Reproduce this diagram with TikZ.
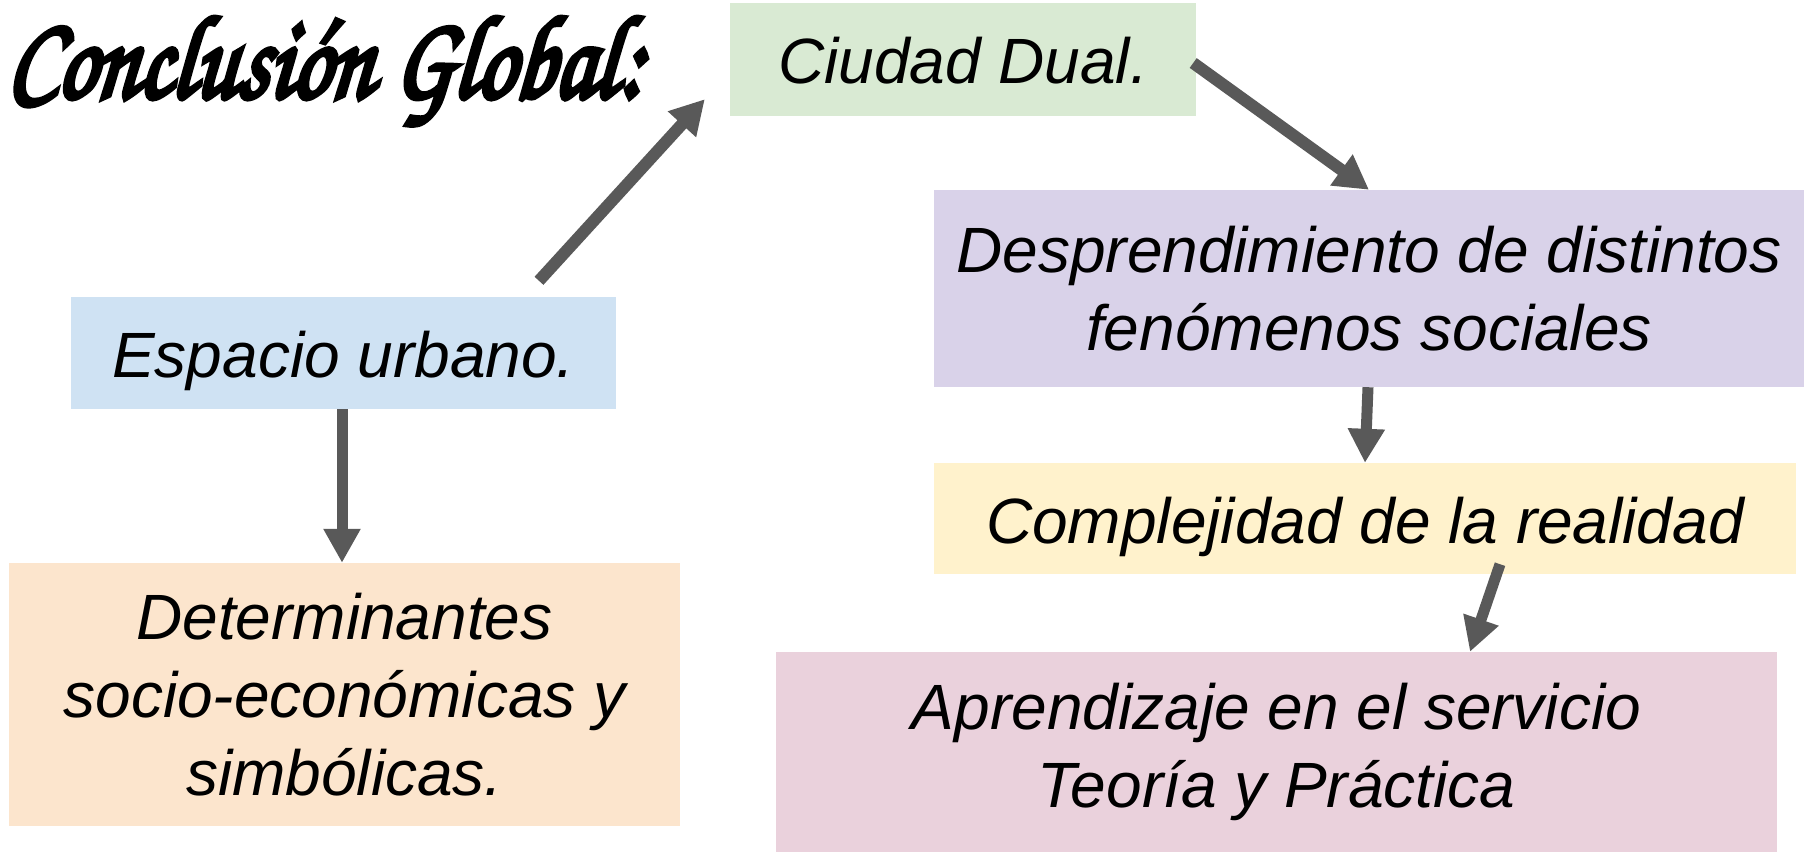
\documentclass[tikz,border=0pt]{standalone}
\usepackage{fontspec}
\setmainfont{Liberation Sans}
\newfontfamily\titlefont[FakeBold=4.5,FakeSlant=0.12]{texgyrechorus-mediumitalic.otf}
\usetikzlibrary{arrows.meta}
\definecolor{cgreen}{HTML}{D9EAD3}
\definecolor{cpurple}{HTML}{D9D2E9}
\definecolor{cyellow}{HTML}{FFF2CC}
\definecolor{cpink}{HTML}{EAD1DC}
\definecolor{cblue}{HTML}{CFE2F3}
\definecolor{corange}{HTML}{FCE5CD}
\definecolor{cgray}{HTML}{595959}
\tikzset{
  box/.style={rectangle, inner sep=0pt, align=center,
    font=\fontsize{64}{78}\selectfont\itshape},
  onebox/.style={box, text depth=0pt, text height=49pt},
  arr/.style={draw=cgray, line width=12pt, -{Triangle[width=36pt,length=34pt]}},
  varr/.style={draw=cgray, line width=11pt, -{Triangle[width=35pt,length=34pt]}}
}
\begin{document}
\begin{tikzpicture}[x=1pt,y=-1pt]
\useasboundingbox (0,0) rectangle (1806,853);
\node[anchor=north west, inner sep=0pt] (title) at (6,17)
  {\resizebox*{634pt}{108pt}{\titlefont Conclusión Global:}};
\node[onebox, fill=cgreen, minimum width=466pt, minimum height=113pt] (ciudad) at (963,59.5) {Ciudad Dual.};
\node[box, fill=cpurple, minimum width=870pt, minimum height=197pt] (desp) at (1369,288.5) {Desprendimiento de distintos\\fenómenos sociales};
\node[onebox, fill=cyellow, minimum width=862pt, minimum height=111pt] (comp) at (1365,518.5) {Complejidad de la realidad};
\node[box, fill=cpink, minimum width=1001pt, minimum height=200pt] (apr) at (1276.5,752) {Aprendizaje en el servicio\\Teoría y Práctica};
\node[onebox, fill=cblue, minimum width=545pt, minimum height=112pt] (esp) at (343.5,353) {Espacio urbano.};
\node[box, fill=corange, minimum width=671pt, minimum height=263pt] (det) at (344.5,694.5) {Determinantes\\socio-económicas y\\simbólicas.};
\draw[arr] ([xshift=195.5pt,yshift=16pt]esp.north) -- ([xshift=-25pt,yshift=17pt]ciudad.south west);
\draw[arr] ([xshift=-3pt,yshift=-3.5pt]ciudad.east) -- (desp.north);
\draw[varr] ([xshift=-1.5pt]esp.south) -- ([xshift=-2.5pt]det.north);
\draw[varr] ([xshift=-1pt]desp.south) -- (comp.north);
\draw[varr] ([xshift=135pt,yshift=10pt]comp.south) -- ([xshift=193.5pt]apr.north);
\end{tikzpicture}
\end{document}
